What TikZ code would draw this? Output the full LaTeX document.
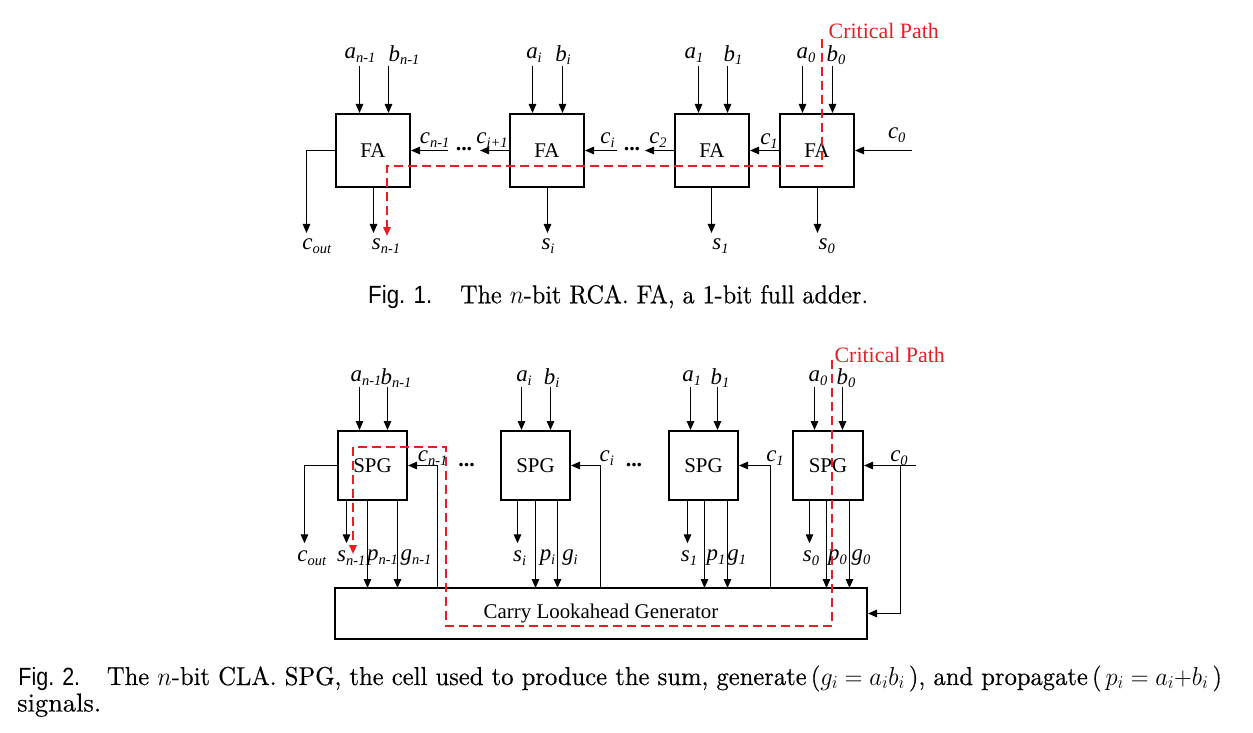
\documentclass[tikz,border=0pt]{standalone}
\usepackage{fix-cm}
\usepackage{graphicx}
\usepackage{fontspec}
\newfontfamily\tnr{Liberation Serif}
\newfontfamily\helv{Liberation Sans}
\newfontfamily\capfont{lmroman10-regular}[Extension=.otf, FakeBold=0.35]
\usetikzlibrary{arrows.meta}
\definecolor{cpred}{RGB}{232,30,37}
\newcommand\vsub[1]{\raisebox{-3.5bp}{\fontsize{14.5}{15}\selectfont\itshape #1}}
\newcommand\lbl[2]{{\fontsize{23}{24}\selectfont\itshape #1}\vsub{#2}}
\begin{document}
\begin{tikzpicture}[x=1bp,y=-1bp,
  box/.style={draw, line width=2bp, inner sep=0pt, font=\tnr\fontsize{21}{24}\selectfont},
  fabox/.style={box, minimum width=74bp, minimum height=73bp},
  spgbox/.style={box, minimum width=69bp, minimum height=69bp},
  wire/.style={line width=1.2bp},
  arr/.style={wire, -{Triangle[length=9bp,width=7.5bp]}},
  crit/.style={draw=cpred, line width=1.8bp, dash pattern=on 9bp off 5bp},
  critarr/.style={crit, -{Triangle[length=9bp,width=7.5bp,fill=cpred]}},
  lab/.style={inner sep=0pt, font=\tnr\fontsize{22}{24}\selectfont},
  dotsn/.style={inner sep=0pt, font=\tnr\bfseries\fontsize{22}{24}\selectfont},
  cpl/.style={inner sep=0pt, text=cpred, font=\tnr\fontsize{22}{24}\selectfont},
  captxt/.style={inner sep=0pt, anchor=base west}]
\fill[white] (0,0) rectangle (1253,733);
\useasboundingbox (0,0) rectangle (1253,733);

% ================= Fig. 1 =================
\node[fabox] (fa1) at (373,150.5) {FA};
\node[fabox] (fa2) at (547,150.5) {FA};
\node[fabox] (fa3) at (712,150.5) {FA};
\node[fabox] (fa4) at (817,150.5) {FA};

% inputs
\node[lab] (ta1) at (360,55) {\lbl{a}{n-1}};
\node[lab] (tb1) at (404,55) {\lbl{b}{n-1}};
\node[lab] (ta2) at (534,55) {\lbl{a}{i}};
\node[lab] (tb2) at (563,55) {\lbl{b}{i}};
\node[lab] (ta3) at (694,55) {\lbl{a}{1}};
\node[lab] (tb3) at (733,55) {\lbl{b}{1}};
\node[lab] (ta4) at (806,55) {\lbl{a}{0}};
\node[lab] (tb4) at (836,55) {\lbl{b}{0}};
\coordinate (ia1) at (359.5,65.7); \coordinate (ib1) at (388.5,65.7);
\coordinate (ia2) at (532.5,65.7); \coordinate (ib2) at (562.5,65.7);
\coordinate (ia3) at (698.5,65.7); \coordinate (ib3) at (727.5,65.7);
\coordinate (ia4) at (802.5,65.7); \coordinate (ib4) at (832.5,65.7);
\draw[arr] (ia1) -- (ia1 |- fa1.north);
\draw[arr] (ib1) -- (ib1 |- fa1.north);
\draw[arr] (ia2) -- (ia2 |- fa2.north);
\draw[arr] (ib2) -- (ib2 |- fa2.north);
\draw[arr] (ia3) -- (ia3 |- fa3.north);
\draw[arr] (ib3) -- (ib3 |- fa3.north);
\draw[arr] (ia4) -- (ia4 |- fa4.north);
\draw[arr] (ib4) -- (ib4 |- fa4.north);

% carries
\coordinate (c1in) at (447.7,150.5);
\coordinate (c2out) at (480,150.5);
\coordinate (c2in) at (617,150.5);
\coordinate (c3out) at (645,150.5);
\coordinate (c4in) at (912,150.5);
\draw[arr] (c1in) -- (fa1.east);
\draw[arr] (fa2.west) -- (c2out);
\draw[arr] (c2in) -- (fa2.east);
\draw[arr] (fa3.west) -- (c3out);
\draw[arr] (fa4.west) -- (fa3.east);
\draw[arr] (c4in) -- (fa4.east);
\node[lab] (tcn1) at (434.7,140) {\lbl{c}{n-1}};
\node[dotsn] (d1) at (464,149) {...};
\node[lab] (tci1) at (492,140) {\lbl{c}{i+1}};
\node[lab] (tci) at (607.5,140) {\lbl{c}{i}};
\node[dotsn] (d2) at (632,149) {...};
\node[lab] (tc2) at (658,140) {\lbl{c}{2}};
\node[lab] (tc1) at (769,141) {\lbl{c}{1}};
\node[lab] (tc0) at (896.7,135) {\lbl{c}{0}};

% outputs
\coordinate (o1) at (373.5,233); \coordinate (o2) at (547.5,233);
\coordinate (o3) at (711.5,233); \coordinate (o4) at (817.5,233);
\coordinate (ocout) at (306.5,233);
\draw[arr] (o1 |- fa1.south) -- (o1);
\draw[arr] (o2 |- fa2.south) -- (o2);
\draw[arr] (o3 |- fa3.south) -- (o3);
\draw[arr] (o4 |- fa4.south) -- (o4);
\draw[arr] (fa1.west) -| (ocout);
\node[lab] (tcout) at (316.7,246) {\lbl{c}{out}};
\node[lab] (ts1) at (386,246) {\lbl{s}{n-1}};
\node[lab] (ts2) at (548,246) {\lbl{s}{i}};
\node[lab] (ts3) at (720.5,246) {\lbl{s}{1}};
\node[lab] (ts4) at (826.7,246) {\lbl{s}{0}};

% critical path
\coordinate (cpa1) at (822,39); \coordinate (cpa2) at (822,166);
\coordinate (cpa3) at (387,166); \coordinate (cpa4) at (387,236);
\draw[critarr] (cpa1) -- (cpa2) -- (cpa3) -- (cpa4);
\node[cpl] (cpt1) at (883.8,31) {Critical Path};

% caption 1
\node[captxt] (f1) at (368,303.3) {\resizebox{64bp}{\height}{\helv\fontsize{25}{30}\selectfont Fig. 1.}};
\node[captxt] (f1t) at (460,303.3) {\resizebox{408bp}{\height}{\capfont\fontsize{26}{30}\selectfont The $n$-bit RCA. FA, a 1-bit full adder.}};

% ================= Fig. 2 =================
\node[spgbox] (spg1) at (372.5,465.5) {SPG};
\node[spgbox] (spg2) at (535.5,465.5) {SPG};
\node[spgbox] (spg3) at (703.5,465.5) {SPG};
\node[spgbox, minimum width=70bp] (spg4) at (828,465.5) {SPG};
\node[draw, line width=2bp, inner sep=0pt, minimum width=532bp, minimum height=51bp,
      font=\tnr\fontsize{21}{24}\selectfont] (clg) at (601,613.5) {Carry Lookahead Generator};

% inputs
\node[lab] (ua1) at (366,378) {\lbl{a}{n-1}};
\node[lab] (ub1) at (396,378) {\lbl{b}{n-1}};
\node[lab] (ua2) at (524,378) {\lbl{a}{i}};
\node[lab] (ub2) at (551.7,378) {\lbl{b}{i}};
\node[lab] (ua3) at (691.7,378) {\lbl{a}{1}};
\node[lab] (ub3) at (720,378) {\lbl{b}{1}};
\node[lab] (ua4) at (818,378) {\lbl{a}{0}};
\node[lab] (ub4) at (846,378) {\lbl{b}{0}};
\coordinate (ja1) at (359.5,386.7); \coordinate (jb1) at (387.5,386.7);
\coordinate (ja2) at (521.5,386.7); \coordinate (jb2) at (550.5,386.7);
\coordinate (ja3) at (690.5,386.7); \coordinate (jb3) at (717.5,386.7);
\coordinate (ja4) at (814.5,386.7); \coordinate (jb4) at (842.5,386.7);
\draw[arr] (ja1) -- (ja1 |- spg1.north);
\draw[arr] (jb1) -- (jb1 |- spg1.north);
\draw[arr] (ja2) -- (ja2 |- spg2.north);
\draw[arr] (jb2) -- (jb2 |- spg2.north);
\draw[arr] (ja3) -- (ja3 |- spg3.north);
\draw[arr] (jb3) -- (jb3 |- spg3.north);
\draw[arr] (ja4) -- (ja4 |- spg4.north);
\draw[arr] (jb4) -- (jb4 |- spg4.north);

% carries from generator
\coordinate (k1) at (437.5,588);
\coordinate (k2) at (600.5,588);
\coordinate (k3) at (770.5,588);
\coordinate (c0in) at (916,465.5);
\coordinate (c0br) at (900.5,465.5);
\draw[arr] (k1) |- (spg1.east);
\draw[arr] (k2) |- (spg2.east);
\draw[arr] (k3) |- (spg3.east);
\draw[arr] (c0in) -- (spg4.east);
\draw[arr] (c0br) |- (clg.east);
\node[lab] (ucn1) at (432.7,458) {\lbl{c}{n-1}};
\node[dotsn] (d3) at (466.7,465) {...};
\node[lab] (uci) at (606.7,458) {\lbl{c}{i}};
\node[dotsn] (d4) at (634,465) {...};
\node[lab] (uc1) at (775,458) {\lbl{c}{1}};
\node[lab] (uc0) at (899,458) {\lbl{c}{0}};

% outputs
\coordinate (qcout) at (304.5,543.3);
\draw[arr] (spg1.west) -| (qcout);
\coordinate (qs1) at (346.5,543.3); \coordinate (qp1) at (367.5,588); \coordinate (qg1) at (397.5,588);
\coordinate (qs2) at (517.5,543.3); \coordinate (qp2) at (535.5,588); \coordinate (qg2) at (557.5,588);
\coordinate (qs3) at (687.5,543.3); \coordinate (qp3) at (704.5,588); \coordinate (qg3) at (727.5,588);
\coordinate (qs4) at (809.5,543.3); \coordinate (qp4) at (826.5,588); \coordinate (qg4) at (849.5,588);
\draw[arr] (qs1 |- spg1.south) -- (qs1);
\draw[arr] (qp1 |- spg1.south) -- (qp1);
\draw[arr] (qg1 |- spg1.south) -- (qg1);
\draw[arr] (qs2 |- spg2.south) -- (qs2);
\draw[arr] (qp2 |- spg2.south) -- (qp2);
\draw[arr] (qg2 |- spg2.south) -- (qg2);
\draw[arr] (qs3 |- spg3.south) -- (qs3);
\draw[arr] (qp3 |- spg3.south) -- (qp3);
\draw[arr] (qg3 |- spg3.south) -- (qg3);
\draw[arr] (qs4 |- spg4.south) -- (qs4);
\draw[arr] (qp4 |- spg4.south) -- (qp4);
\draw[arr] (qg4 |- spg4.south) -- (qg4);
\node[lab] (ucout) at (311.7,558) {\lbl{c}{out}};
\node[lab] (us1) at (351.3,558) {\lbl{s}{n-1}};
\node[lab] (up1) at (382.5,558) {\lbl{p}{n-1}};
\node[lab] (ug1) at (416,558) {\lbl{g}{n-1}};
\node[lab] (us2) at (519.7,558) {\lbl{s}{i}};
\node[lab] (up2) at (547.5,558) {\lbl{p}{i}};
\node[lab] (ug2) at (570,558) {\lbl{g}{i}};
\node[lab] (us3) at (689,558) {\lbl{s}{1}};
\node[lab] (up3) at (716,558) {\lbl{p}{1}};
\node[lab] (ug3) at (736.7,558) {\lbl{g}{1}};
\node[lab] (us4) at (811,558) {\lbl{s}{0}};
\node[lab] (up4) at (837.5,558) {\lbl{p}{0}};
\node[lab] (ug4) at (861,558) {\lbl{g}{0}};

% critical path
\coordinate (cpb1) at (832,360); \coordinate (cpb2) at (832,626);
\coordinate (cpb3) at (446,626); \coordinate (cpb4) at (446,447);
\coordinate (cpb5) at (353,447); \coordinate (cpb6) at (353,554);
\draw[critarr] (cpb1) -- (cpb2) -- (cpb3) -- (cpb4) -- (cpb5) -- (cpb6);
\node[cpl] (cpt2) at (889.7,355) {Critical Path};

% caption 2
\node[captxt] (f2) at (18.3,685) {\resizebox{61.7bp}{\height}{\helv\fontsize{25}{30}\selectfont Fig. 2.}};
\node[captxt] (f2t) at (106.7,685) {\resizebox{1115bp}{\height}{\capfont\fontsize{26}{30}\selectfont The $n$-bit CLA. SPG, the cell used to produce the sum, generate\,($g_i = a_ib_i\,$), and propagate\,($\,p_i = a_i{+}b_i\,$)}};
\node[captxt] (f2u) at (17,711.5) {\resizebox{84bp}{\height}{\capfont\fontsize{26}{30}\selectfont signals.}};
\end{tikzpicture}
\end{document}
